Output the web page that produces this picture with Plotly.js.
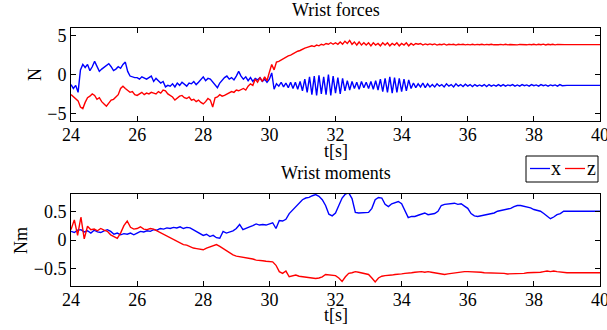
<!DOCTYPE html>
<html><head><meta charset="utf-8">
<script src="https://cdn.plot.ly/plotly-3.0.1.min.js"></script>
<style>body{margin:0;background:#fff;} #chart{width:607px;height:330px;}</style>
</head><body><div id="chart"></div>
<script>
// ---------- DATA ----------
// Forces: sampled every 1/14 s from 24 s to 39 s (rows = one second each), then hold values at 39 and 40 s
const forceX = [
 -1.3,-1.8,-1.4,-2.3,0.6,1.3,0.9,1.3,0.5,1.0,1.7,1.1,0.4,0.7,
 0.9,1.1,1.4,1.0,0.5,0.7,1.0,0.8,1.3,1.6,0.4,-0.2,-0.3,-0.4,
 -0.4,-0.6,-0.3,-0.5,-0.6,-0.4,-0.2,-0.9,-0.5,-0.8,-1.1,-0.9,-1.6,-1.4,
 -1.5,-1.2,-1.6,-1.1,-1.4,-1.0,-1.3,-1.5,-1.1,-1.2,-0.9,-1.3,-1.0,-0.7,
 -0.3,-0.8,-0.5,-0.6,-1.0,-1.3,-1.7,-1.1,-0.7,-0.4,-0.2,-0.6,-0.4,-0.7,
 -0.2,0.4,-0.2,-0.6,-0.3,-0.8,-0.4,-0.9,-0.5,-0.7,-0.4,-0.9,-0.6,-1.0,
 -0.6,0.2,-1.9,-1.2,-1.5,-1.0,-1.6,-1.1,-1.7,-1.0,-1.8,-1.0,-1.9,-0.9,
 -2.1,-0.6,-2.3,-0.3,-2.6,-0.2,-2.7,-0.1,-2.5,-0.3,-2.6,0.0,-2.7,-0.2,
 -2.4,-0.4,-2.5,-0.5,-2.1,-0.8,-2.0,-0.9,-1.8,-1.0,-1.9,-0.9,-1.7,-1.0,
 -1.8,-0.9,-1.9,-0.8,-2.0,-0.6,-2.2,-0.5,-2.3,-0.3,-2.4,-0.4,-2.3,-0.5,
 -2.2,-0.6,-2.1,-0.7,-1.8,-1.1,-1.7,-1.2,-1.6,-1.1,-1.7,-1.2,-1.6,-1.3,
 -1.6,-1.2,-1.5,-1.3,-1.6,-1.2,-1.5,-1.3,-1.6,-1.2,-1.5,-1.3,-1.55,-1.25,
 -1.5,-1.3,-1.55,-1.3,-1.5,-1.35,-1.5,-1.3,-1.55,-1.3,-1.5,-1.35,-1.5,-1.3,
 -1.5,-1.3,-1.5,-1.35,-1.45,-1.3,-1.5,-1.35,-1.5,-1.3,-1.45,-1.35,-1.5,-1.3,
 -1.45,-1.35,-1.5,-1.3,-1.45,-1.35,-1.5,-1.35,-1.45,-1.35,-1.5,-1.3,-1.45,-1.4,
 -1.4,-1.4
];
const forceZ = [
 -2.6,-2.9,-3.1,-3.4,-4.2,-4.4,-3.6,-3.0,-2.8,-2.5,-2.7,-3.2,-3.0,-3.5,
 -3.8,-4.1,-3.7,-3.3,-3.2,-2.9,-2.6,-1.8,-1.5,-1.8,-2.0,-2.3,-2.2,-2.6,
 -2.7,-2.5,-2.3,-2.6,-2.4,-2.5,-2.3,-2.4,-2.5,-2.2,-2.4,-2.0,-2.1,-2.5,
 -2.7,-2.9,-3.3,-3.0,-2.8,-2.7,-3.0,-3.1,-2.9,-3.3,-3.2,-3.5,-3.3,-3.6,
 -3.8,-3.5,-3.1,-3.3,-4.2,-3.0,-2.9,-2.6,-2.8,-2.7,-2.5,-2.4,-2.2,-2.3,
 -2.0,-2.1,-1.9,-1.8,-2.0,-1.5,-1.2,-1.4,-0.6,-1.0,-0.4,-0.9,-0.3,-0.8,
 0.3,1.3,0.6,1.6,1.7,1.9,2.1,2.2,2.4,2.5,2.7,2.8,3.0,3.1,
 3.3,3.4,3.5,3.6,3.7,3.6,3.8,3.7,3.9,3.8,4.0,3.9,4.1,3.9,
 4.1,3.9,4.2,3.9,4.3,4.0,4.4,3.9,4.2,3.8,4.2,3.8,4.1,3.8,
 4.1,3.7,4.1,3.8,4.0,3.7,4.1,3.8,4.1,3.7,4.0,3.8,4.1,3.7,
 4.0,3.8,4.1,3.7,4.0,3.8,4.0,3.9,4.0,3.8,3.95,3.85,3.95,3.85,
 3.95,3.8,3.9,3.85,3.95,3.8,3.9,3.85,3.9,3.8,3.9,3.85,3.9,3.82,
 3.88,3.83,3.9,3.82,3.88,3.84,3.9,3.82,3.88,3.84,3.9,3.83,3.88,3.84,
 3.88,3.83,3.9,3.83,3.87,3.84,3.9,3.82,3.88,3.84,3.89,3.83,3.88,3.84,
 3.9,3.82,3.9,3.84,3.92,3.82,3.9,3.84,3.9,3.83,3.88,3.84,3.87,3.85,
 3.85,3.85
];
// Moments: sampled every 0.1 s from 24.0 s to 38.9 s (rows = one second each), then values at 39 and 40 s
const momentX = [
 0.15,0.13,0.17,0.18,0.14,0.16,0.12,0.17,0.14,0.13,
 0.16,0.18,0.15,0.10,0.12,0.09,0.11,0.10,0.12,0.09,
 0.12,0.15,0.14,0.16,0.15,0.18,0.17,0.20,0.19,0.21,
 0.20,0.22,0.21,0.23,0.20,0.22,0.21,0.18,0.15,0.12,
 0.08,0.10,0.06,0.08,0.04,0.03,0.15,0.12,0.14,0.16,
 0.20,0.27,0.18,0.21,0.23,0.25,0.28,0.26,0.27,0.26,
 0.28,0.30,0.20,0.34,0.33,0.36,0.46,0.52,0.58,0.64,
 0.70,0.73,0.74,0.77,0.79,0.76,0.70,0.60,0.45,0.42,
 0.47,0.60,0.73,0.80,0.82,0.72,0.48,0.47,0.47,0.47,
 0.48,0.55,0.70,0.74,0.73,0.62,0.58,0.63,0.65,0.67,
 0.63,0.50,0.39,0.41,0.41,0.43,0.45,0.47,0.44,0.45,
 0.46,0.50,0.60,0.62,0.63,0.63,0.64,0.62,0.63,0.59,
 0.55,0.46,0.42,0.41,0.42,0.43,0.44,0.45,0.47,0.50,
 0.51,0.52,0.53,0.55,0.58,0.60,0.60,0.59,0.58,0.56,
 0.53,0.52,0.50,0.46,0.41,0.37,0.40,0.44,0.46,0.50,
 0.50,0.50
];
const momentZ = [
 0.18,0.35,0.08,0.40,0.02,0.24,0.18,0.19,0.16,0.20,
 0.17,0.15,0.09,0.06,0.03,0.12,0.25,0.33,0.22,0.19,
 0.20,0.23,0.19,0.18,0.20,0.19,0.16,0.12,0.09,0.06,
 0.03,0.00,-0.03,-0.05,-0.08,-0.09,-0.12,-0.14,-0.15,-0.16,
 -0.17,-0.14,-0.12,-0.10,-0.08,-0.11,-0.15,-0.19,-0.23,-0.26,
 -0.28,-0.29,-0.29,-0.30,-0.31,-0.33,-0.35,-0.35,-0.36,-0.37,
 -0.37,-0.38,-0.44,-0.55,-0.58,-0.54,-0.64,-0.62,-0.61,-0.63,
 -0.64,-0.65,-0.66,-0.66,-0.67,-0.66,-0.64,-0.60,-0.61,-0.62,
 -0.62,-0.66,-0.72,-0.64,-0.58,-0.57,-0.55,-0.56,-0.57,-0.58,
 -0.60,-0.66,-0.73,-0.66,-0.63,-0.62,-0.62,-0.61,-0.60,-0.60,
 -0.59,-0.58,-0.58,-0.57,-0.56,-0.55,-0.55,-0.56,-0.55,-0.56,
 -0.57,-0.58,-0.59,-0.60,-0.59,-0.58,-0.57,-0.56,-0.56,-0.55,
 -0.55,-0.55,-0.55,-0.56,-0.56,-0.57,-0.57,-0.57,-0.57,-0.58,
 -0.58,-0.58,-0.59,-0.59,-0.59,-0.58,-0.58,-0.58,-0.57,-0.57,
 -0.57,-0.56,-0.56,-0.55,-0.54,-0.55,-0.54,-0.55,-0.56,-0.57,
 -0.57,-0.57
];
const xTicks = [24,26,28,30,32,34,36,38,40];
const forceTicks = [-5,0,5];
const momentTicks = [-0.5,0,0.5];
const seriesNames = ['x','z'];
const colors = ['#0000ff','#ff0000'];

// sampling grids
function grid(start, perSec, nSec){ const t=[]; for(let i=0;i<perSec*nSec;i++) t.push(start+i/perSec); t.push(start+nSec); t.push(40); return t; }
const tForce = grid(24,14,15);
const tMoment = grid(24,10,15);

const L=71, R=600, T=28, B=286, W=R-L, H=B-T;
const px = v => (v-L)/W, py = v => (B-v)/H;

const font = {family:'Liberation Serif', size:18, color:'black'};
const axisStyle = {showline:true, linecolor:'black', linewidth:1, mirror:'ticks', ticks:'inside', ticklen:5, tickcolor:'black', showgrid:false, zeroline:false, tickfont:font, ticklabeloverflow:'allow'};
const xStyle = Object.assign({}, axisStyle, {ticklabelstandoff:-3});

const traces = [
 {x:tForce, y:forceX, name:seriesNames[0], xaxis:'x', yaxis:'y', mode:'lines', line:{color:colors[0], width:1.4}},
 {x:tForce, y:forceZ, name:seriesNames[1], xaxis:'x', yaxis:'y', mode:'lines', line:{color:colors[1], width:1.4}},
 {x:tMoment, y:momentX, name:seriesNames[0], xaxis:'x2', yaxis:'y2', mode:'lines', line:{color:colors[0], width:1.4}},
 {x:tMoment, y:momentZ, name:seriesNames[1], xaxis:'x2', yaxis:'y2', mode:'lines', line:{color:colors[1], width:1.4}}
];

const ann = (text,x,y,extra) => Object.assign({text, xref:'paper', yref:'paper', x:px(x), y:py(y), showarrow:false, xanchor:'center', yanchor:'middle', font:font}, extra||{});
const legFont = Object.assign({}, font, {size:20});

const layout = {
 width:607, height:330, margin:{l:L, r:607-R, t:T, b:330-B, pad:0},
 paper_bgcolor:'white', plot_bgcolor:'white', showlegend:false, font:font,
 xaxis: Object.assign({}, xStyle, {anchor:'y', domain:[0,1], range:[24,40], tickvals:xTicks}),
 yaxis: Object.assign({}, axisStyle, {anchor:'x', domain:[py(121),1], range:[-6,6], tickvals:forceTicks}),
 xaxis2: Object.assign({}, xStyle, {anchor:'y2', domain:[0,1], range:[24,40], tickvals:xTicks}),
 yaxis2: Object.assign({}, axisStyle, {anchor:'x2', domain:[0,py(194)], range:[-0.8,0.8], tickvals:momentTicks}),
 annotations:[
  ann('Wrist forces',335.5,10),
  ann('Wrist moments',335.5,173),
  ann('t[s]',335.5,150.5),
  ann('t[s]',335.5,315),
  ann('N',35,75,{textangle:-90}),
  ann('Nm',21,241,{textangle:-90}),
  ann(seriesNames[0],555.5,168,{font:legFont}),
  ann(seriesNames[1],591.5,168,{font:legFont})
 ],
 shapes:[
  {type:'rect', xref:'paper', yref:'paper', x0:px(526), x1:px(598), y0:py(156), y1:py(182), line:{color:'black', width:1}, fillcolor:'white', layer:'above'},
  {type:'line', xref:'paper', yref:'paper', x0:px(530), x1:px(550), y0:py(168.5), y1:py(168.5), line:{color:colors[0], width:1.3}},
  {type:'line', xref:'paper', yref:'paper', x0:px(565), x1:px(585), y0:py(168.5), y1:py(168.5), line:{color:colors[1], width:1.3}}
 ]
};
Plotly.newPlot('chart', traces, layout, {staticPlot:true, displayModeBar:false});
</script>
</body></html>
